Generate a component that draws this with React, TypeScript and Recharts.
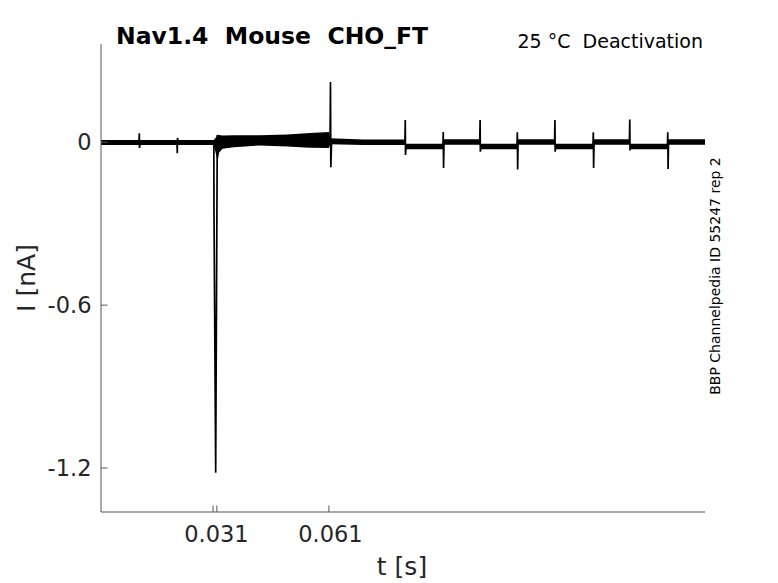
import React from "react";
import { ComposedChart, Line, Area, XAxis, YAxis } from "recharts";

// ---- data ----
const traceT = [
  0.001, 0.0110, 0.01108, 0.01114, 0.0113, 0.0210, 0.02108, 0.02114, 0.0213,
  0.0307, 0.03074, 0.03119, 0.03161, 0.0318,
  0.0613, 0.06141, 0.0615, 0.0617,
  0.0810, 0.0811, 0.08116, 0.0813,
  0.0910, 0.0911, 0.09118, 0.0913,
  0.1007, 0.1008, 0.10086, 0.1010,
  0.1105, 0.1106, 0.11068, 0.1108,
  0.1204, 0.1205, 0.12056, 0.1207,
  0.1305, 0.1306, 0.13068, 0.1308,
  0.1401, 0.1402, 0.14026, 0.1404,
  0.1501, 0.1502, 0.15028, 0.1504,
  0.16,
];
const traceI = [
  -0.001, 0.0, 0.033, -0.021, 0.0, 0.0, -0.040, 0.016, 0.0,
  0.0, -0.238, -1.217, 0.027, 0.0,
  0.012, 0.222, -0.092, 0.003,
  0.0, 0.082, -0.047, -0.015,
  -0.015, 0.038, -0.095, 0.001,
  0.0, 0.082, -0.035, -0.015,
  -0.015, 0.037, -0.100, 0.001,
  0.0, 0.082, -0.035, -0.015,
  -0.015, 0.037, -0.095, 0.001,
  0.0, 0.084, -0.030, -0.015,
  -0.015, 0.037, -0.098, 0.001,
  0.001,
];

const bandT = [
  0.001, 0.0300, 0.0307, 0.0317, 0.0321, 0.0330, 0.0360, 0.0427, 0.0500,
  0.0560, 0.0610, 0.0614, 0.0700,
  0.08105, 0.08115, 0.09105, 0.09115,
  0.10075, 0.10085, 0.11055, 0.11065,
  0.12045, 0.12055, 0.13055, 0.13065,
  0.14015, 0.14025, 0.15015, 0.15025,
  0.16,
];
const bandLo = [
  -0.010, -0.010, -0.010, -0.070, -0.038, -0.024, -0.018, -0.012, -0.016,
  -0.020, -0.021, -0.007, -0.010,
  -0.010, -0.026, -0.026, -0.009,
  -0.009, -0.026, -0.026, -0.009,
  -0.009, -0.026, -0.026, -0.009,
  -0.009, -0.026, -0.026, -0.009,
  -0.009,
];
const bandHi = [
  0.008, 0.008, 0.008, 0.026, 0.027, 0.025, 0.026, 0.026, 0.029,
  0.034, 0.038, 0.015, 0.010,
  0.010, -0.005, -0.005, 0.011,
  0.011, -0.005, -0.005, 0.011,
  0.011, -0.005, -0.005, 0.011,
  0.011, -0.005, -0.005, 0.011,
  0.011,
];

const xTicks = [0.0305, 0.031, 0.0315, 0.061];
const xTickMarked = [true, false, true, true];
const xTickText = ["", "0.031", "", "0.061"];
const yTicks = [-1.2, -0.6, 0];
const yTickText = ["-1.2", "-0.6", "0"];

const titleText = "Nav1.4  Mouse  CHO_FT";
const subtitleText = "25 \u00B0C  Deactivation";
const xLabelText = "t [s]";
const yLabelText = "I [nA]";
const noteText = "BBP Channelpedia ID 55247 rep 2";

// ---- build tables ----
const traceData = traceT.map((t, k) => ({ t, i: traceI[k] }));
const bandData = bandT.map((t, k) => ({ t, range: [bandLo[k], bandHi[k]] }));

const FONT = "DejaVu Sans";
const AXIS = "#555555";
const TEXT = "#262626";

const XTick = (props: any) => {
  const { x, y, payload } = props;
  const k = xTicks.indexOf(payload.value);
  return (
    <g>
      {xTickMarked[k] ? (
        <line x1={x} y1={y} x2={x} y2={y - 6.5} stroke={AXIS} strokeWidth={1} />
      ) : null}
      {xTickText[k] ? (
        <text x={x + 1.5} y={y + 29.5} textAnchor="middle" fontFamily={FONT} fontSize={22.5} fill={TEXT}>
          {xTickText[k]}
        </text>
      ) : null}
    </g>
  );
};

const YTick = (props: any) => {
  const { x, y, payload } = props;
  const k = yTicks.indexOf(payload.value);
  return (
    <g>
      <line x1={x} y1={y} x2={x + 6.5} y2={y} stroke={AXIS} strokeWidth={1} />
      <text x={x - 9.5} y={y} dy="0.36em" textAnchor="end" fontFamily={FONT} fontSize={22.5} fill={TEXT}>
        {yTickText[k]}
      </text>
    </g>
  );
};

export default function App() {
  return (
    <div style={{ position: "absolute", left: 0, top: 0, width: 778, height: 583, background: "#fff" }}>
      <ComposedChart
        width={778}
        height={583}
        margin={{ top: 44, right: 73, bottom: 0, left: 0 }}
      >
        <XAxis
          type="number"
          dataKey="t"
          domain={[0.001, 0.16]}
          allowDataOverflow
          ticks={xTicks}
          interval={0}
          height={71}
          tickSize={0}
          tickMargin={0}
          tickLine={false}
          axisLine={{ stroke: AXIS, strokeWidth: 1 }}
          tick={<XTick />}
        />
        <YAxis
          type="number"
          domain={[-1.362, 0.362]}
          allowDataOverflow
          ticks={yTicks}
          interval={0}
          width={101}
          tickSize={0}
          tickMargin={0}
          tickLine={false}
          axisLine={{ stroke: AXIS, strokeWidth: 1 }}
          tick={<YTick />}
        />
        <Area
          data={bandData}
          dataKey="range"
          type="linear"
          stroke="none"
          fill="#000"
          fillOpacity={1}
          isAnimationActive={false}
          dot={false}
          activeDot={false}
        />
        <Line
          data={traceData}
          dataKey="i"
          type="linear"
          stroke="#000"
          strokeWidth={1.7}
          dot={false}
          activeDot={false}
          isAnimationActive={false}
        />
      </ComposedChart>
      <svg
        width={778}
        height={583}
        style={{ position: "absolute", left: 0, top: 0, pointerEvents: "none" }}
      >
        <text x={116} y={44} fontFamily={FONT} fontWeight="bold" fontSize={23.5} fill="#000" style={{ whiteSpace: "pre" }}>
          {titleText}
        </text>
        <text x={703} y={48} textAnchor="end" fontFamily={FONT} fontSize={19} fill="#000" style={{ whiteSpace: "pre" }}>
          {subtitleText}
        </text>
        <text x={402} y={575} textAnchor="middle" fontFamily={FONT} fontSize={25} fill={TEXT}>
          {xLabelText}
        </text>
        <text
          x={35}
          y={278}
          textAnchor="middle"
          fontFamily={FONT}
          fontSize={25}
          fill={TEXT}
          transform="rotate(-90 35 278)"
        >
          {yLabelText}
        </text>
        <text
          x={720}
          y={276}
          textAnchor="middle"
          fontFamily={FONT}
          fontSize={14}
          fill="#000"
          transform="rotate(-90 720 276)"
        >
          {noteText}
        </text>
      </svg>
    </div>
  );
}
